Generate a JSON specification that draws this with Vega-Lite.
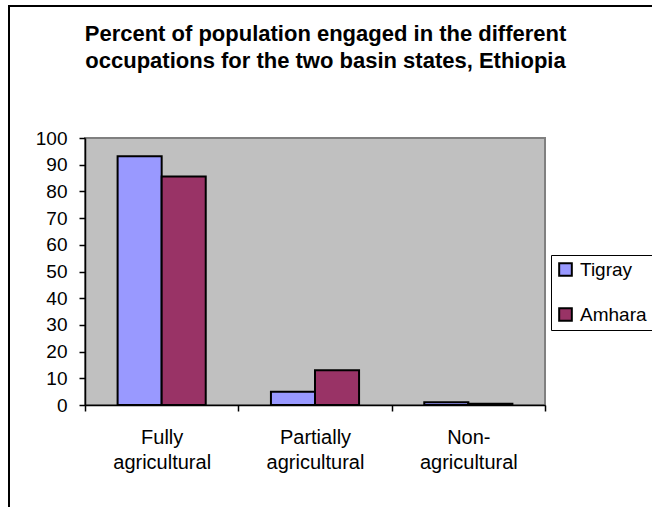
{
  "$schema": "https://vega.github.io/schema/vega-lite/v6.json",
  "autosize": "none",
  "width": 643,
  "height": 501,
  "padding": {"left": 9, "top": 6, "right": 0, "bottom": 0},
  "background": "white",
  "title": {
    "text": ["Percent of population engaged in the different", "occupations for the two basin states, Ethiopia"],
    "font": "Liberation Sans",
    "fontWeight": "bold",
    "fontSize": 22,
    "lineHeight": 27,
    "color": "black",
    "anchor": "middle",
    "frame": "group",
    "dx": -5,
    "offset": -67
  },
  "data": {
    "values": [
      {"occupation": "Fully agricultural", "state": "Tigray", "percent": 93.2},
      {"occupation": "Fully agricultural", "state": "Amhara", "percent": 85.6},
      {"occupation": "Partially agricultural", "state": "Tigray", "percent": 5.0},
      {"occupation": "Partially agricultural", "state": "Amhara", "percent": 13.0},
      {"occupation": "Non-agricultural", "state": "Tigray", "percent": 1.0},
      {"occupation": "Non-agricultural", "state": "Amhara", "percent": 0.5}
    ]
  },
  "resolve": {"scale": {"x": "independent"}, "axis": {"x": "independent"}},
  "layer": [
    {
      "data": {"values": [{}]},
      "mark": {"type": "rect", "fill": "#C0C0C0", "stroke": "#808080", "strokeWidth": 2},
      "encoding": {
        "x": {"datum": 0, "type": "quantitative", "scale": {"domain": [0, 1], "range": [76, 536]}, "axis": null},
        "x2": {"datum": 1},
        "y": {"datum": 100, "type": "quantitative"},
        "y2": {"datum": 0}
      }
    },
    {
      "mark": {"type": "bar", "stroke": "black", "strokeWidth": 2},
      "encoding": {
        "x": {
          "field": "occupation",
          "type": "nominal",
          "sort": ["Fully agricultural", "Partially agricultural", "Non-agricultural"],
          "scale": {
            "domain": ["Fully agricultural", "Partially agricultural", "Non-agricultural"],
            "range": [76, 536],
            "paddingInner": 0,
            "paddingOuter": 0
          },
          "axis": {
            "title": null,
            "orient": "bottom",
            "offset": -102,
            "zindex": 1,
            "labelAngle": 0,
            "tickBand": "extent",
            "tickSize": 6,
            "tickColor": "black",
            "tickWidth": 1.5,
            "domainColor": "black",
            "domainWidth": 1.5,
            "labelFont": "Liberation Sans",
            "labelFontSize": 20,
            "labelColor": "black",
            "labelLineHeight": 25,
            "labelPadding": 16,
            "labelExpr": "!isString(datum.value) ? '' : datum.value == 'Non-agricultural' ? ['Non-', 'agricultural'] : split(datum.value, ' ')"
          }
        },
        "xOffset": {
          "field": "state",
          "type": "nominal",
          "sort": ["Tigray", "Amhara"],
          "scale": {"paddingInner": 0, "paddingOuter": 0.74}
        },
        "y": {
          "field": "percent",
          "type": "quantitative",
          "scale": {"domain": [0, 100], "range": [399, 132], "nice": false},
          "axis": {
            "title": null,
            "orient": "left",
            "offset": -76,
            "zindex": 1,
            "grid": false,
            "values": [0, 10, 20, 30, 40, 50, 60, 70, 80, 90, 100],
            "tickSize": 6,
            "tickColor": "black",
            "tickWidth": 1.5,
            "domainColor": "black",
            "domainWidth": 1.5,
            "labelFont": "Liberation Sans",
            "labelFontSize": 19,
            "labelColor": "black",
            "labelPadding": 12
          }
        },
        "color": {
          "field": "state",
          "type": "nominal",
          "sort": ["Tigray", "Amhara"],
          "scale": {"domain": ["Tigray", "Amhara"], "range": ["#9999FF", "#993366"]},
          "legend": {
            "title": null,
            "orient": "none",
            "legendX": 542,
            "legendY": 249,
            "fillColor": "white",
            "strokeColor": "black",
            "padding": 5,
            "symbolType": "square",
            "symbolSize": 160,
            "symbolStrokeColor": "black",
            "symbolStrokeWidth": 2,
            "labelFont": "Liberation Sans",
            "labelFontSize": 19,
            "labelColor": "black",
            "labelOffset": 5,
            "rowPadding": 24
          }
        }
      }
    }
  ],
  "config": {
    "font": "Liberation Sans",
    "view": {"fill": "white", "stroke": "black", "strokeWidth": 2, "strokeDash": [643, 1144, 501]}
  }
}
